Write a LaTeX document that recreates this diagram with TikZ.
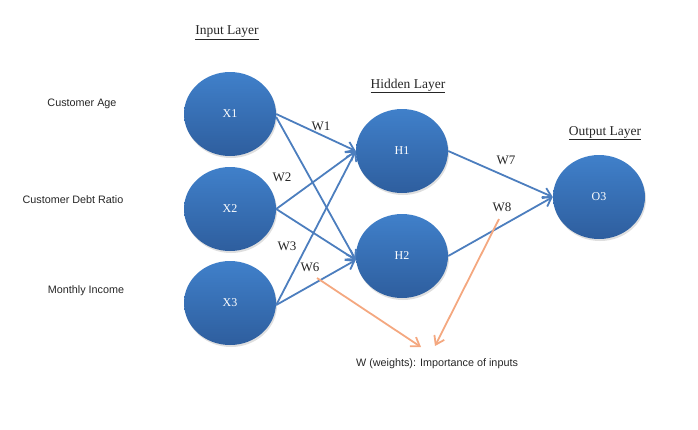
\documentclass[tikz,border=0pt]{standalone}
\usepackage{fontspec}
\setmainfont{Liberation Serif}
\newfontfamily\arialf{Liberation Sans}
\usetikzlibrary{shapes.geometric,arrows.meta,shadows}
\definecolor{nodetop}{RGB}{64,128,202}
\definecolor{nodebot}{RGB}{46,94,158}
\definecolor{linkblue}{RGB}{76,126,190}
\definecolor{noteorange}{RGB}{244,168,128}
\tikzset{
  neuron/.style={ellipse, minimum width=92pt, minimum height=84pt, inner sep=0pt,
    top color=nodetop, bottom color=nodebot, draw=none, text=white,
    font=\fontsize{12}{14}\selectfont,
    drop shadow={opacity=0.25, shadow xshift=1pt, shadow yshift=-2pt}},
  layertitle/.style={font=\fontsize{13.5}{16}\selectfont, text=black!85},
  inlabel/.style={font=\arialf\fontsize{10.8}{13}\selectfont, text=black!85},
  wlabel/.style={font=\fontsize{13}{15}\selectfont, text=black!85},
  link/.style={draw=linkblue, line width=1.8pt, -{Straight Barb[length=8pt,width=11pt]}},
  note/.style={draw=noteorange, line width=1.8pt, -{Straight Barb[length=8pt,width=11pt]}},
}
\begin{document}
\begin{tikzpicture}[x=1pt,y=-1pt]
\useasboundingbox (0,0) rectangle (698,429);
\node[neuron] (X1) at (230,114) {X1};
\node[neuron] (X2) at (230,209) {X2};
\node[neuron] (X3) at (230,303) {X3};
\node[neuron] (H1) at (402,151) {H1};
\node[neuron] (H2) at (402,256) {H2};
\node[neuron] (O3) at (599,197) {O3};

\node[layertitle] (tin) at (227,33) {\underline{Input Layer}};
\node[layertitle] (thid) at (408,86) {\underline{Hidden Layer}};
\node[layertitle] (tout) at (605,133) {\underline{Output Layer}};

\node[inlabel] (l1) at (82,104) {Customer Age};
\node[inlabel] (l2) at (73,200) {Customer Debt Ratio};
\node[inlabel] (l3) at (86,291) {Monthly Income};

\draw[link] (X1.east) -- (H1.west);
\draw[link] ([yshift=-3pt]X1.east) -- ([yshift=-4pt]H2.west);
\draw[link] (X2.east) -- (H1.west);
\draw[link] (X2.east) -- ([yshift=-4pt]H2.west);
\draw[link] ([yshift=-2pt]X3.east) -- (H1.west);
\draw[link] ([yshift=-2pt]X3.east) -- ([yshift=-4pt]H2.west);
\draw[link] (H1.east) -- (O3.west);
\draw[link] (H2.east) -- (O3.west);

\node[wlabel] (w1) at (321,126) {W1};
\node[wlabel] (w2) at (282,177) {W2};
\node[wlabel] (w3) at (287,246) {W3};
\node[wlabel] (w6) at (310,267) {W6};
\node[wlabel] (w7) at (506,160) {W7};
\node[wlabel] (w8) at (502,207) {W8};

\node[inlabel] (wnote) at (437,364) {W (weights): Importance of inputs};
\coordinate (s6) at (317,278);
\coordinate (s8) at (499,219);
\coordinate (e6) at (421,347);
\coordinate (e8) at (435,346);
\draw[note] (s6) -- (e6);
\draw[note] (s8) -- (e8);
\end{tikzpicture}
\end{document}
